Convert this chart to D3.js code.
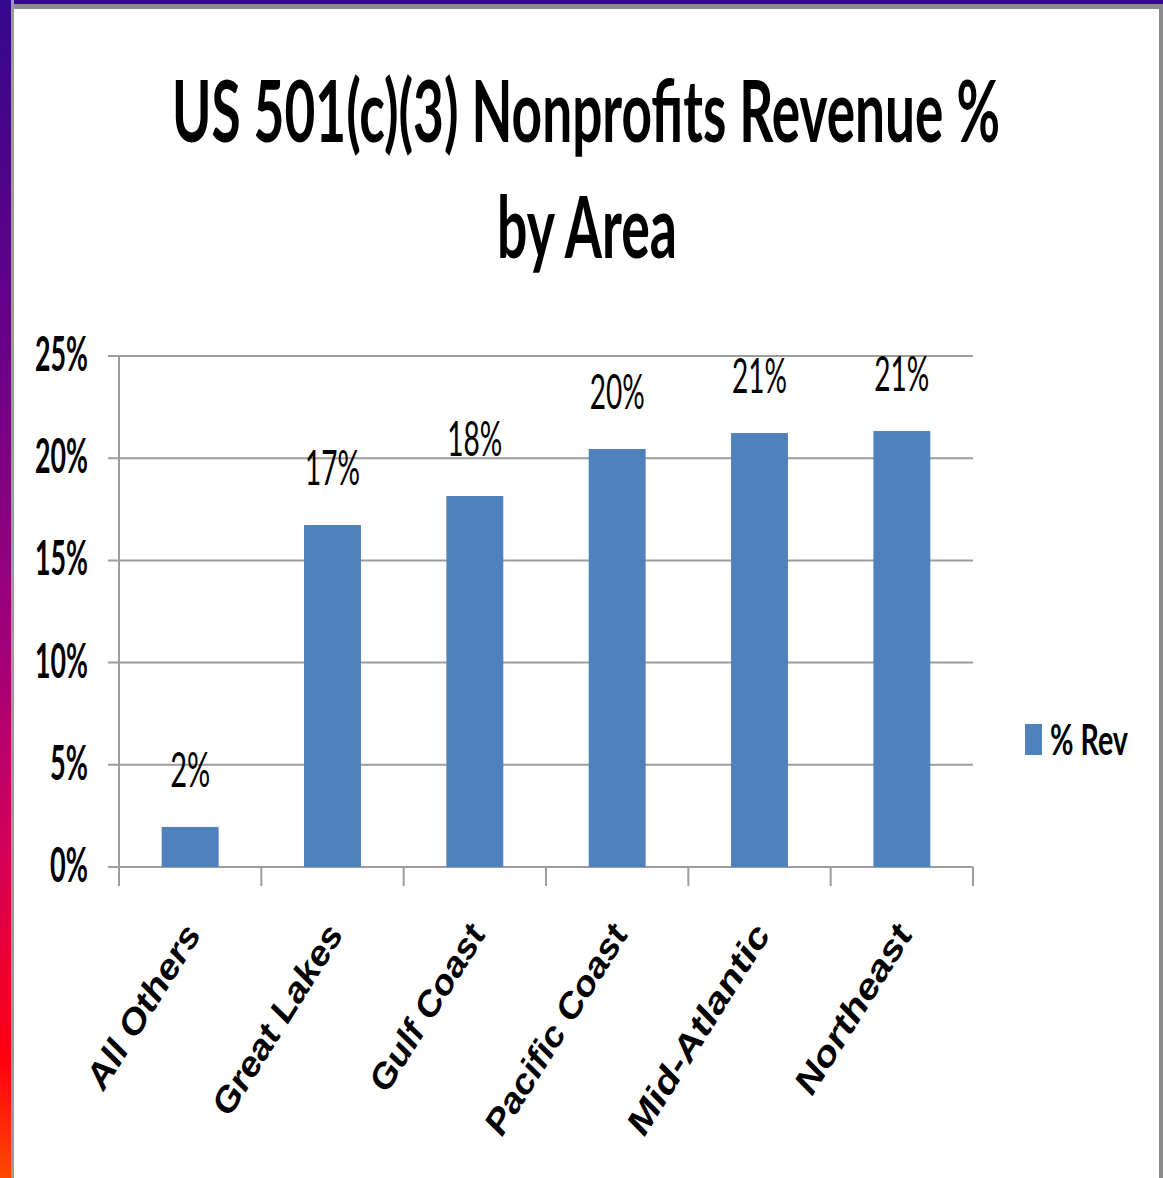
<!DOCTYPE html>
<html>
<head>
<meta charset="utf-8">
<script src="https://cdn.jsdelivr.net/npm/d3@7"></script>
<style>
  html, body { margin: 0; padding: 0; background: #fff; }
  svg { display: block; }
</style>
</head>
<body>
<div id="chart"></div>
<script>
// data
const areas = ['All Others', 'Great Lakes', 'Gulf Coast', 'Pacific Coast', 'Mid-Atlantic', 'Northeast'];
const revShare = [0.0196, 0.1673, 0.1815, 0.2045, 0.2123, 0.2133];
const valueLabels = ['2%', '17%', '18%', '20%', '21%', '21%'];
const yTicks = [0, 0.05, 0.10, 0.15, 0.20, 0.25];
const yTickLabels = ['0%', '5%', '10%', '15%', '20%', '25%'];
const titleLines = ['US 501(c)(3) Nonprofits Revenue %', 'by Area'];
// rough widths of the squeezed labels as they appear
const areaLabelLen = [194, 225, 197, 248, 248, 200];

const W = 1163, H = 1178;
const svg = d3.select('#chart').append('svg')
  .attr('width', W).attr('height', H);

// slide frame: gradient strip on the left, bars top and right
const defs = svg.append('defs');
const grad = defs.append('linearGradient')
  .attr('id', 'side').attr('x1', 0).attr('x2', 0).attr('y1', 0).attr('y2', 1);
[[0, '#34088e'], [0.3, '#6a0088'], [0.55, '#a20078'], [0.72, '#d0005a'], [0.9, '#ff0010'], [1, '#ff4a00']]
  .forEach(s => grad.append('stop').attr('offset', s[0]).attr('stop-color', s[1]));

svg.append('rect').attr('x', 0).attr('y', 0).attr('width', W).attr('height', 9).attr('fill', '#8c8c8c');
svg.append('rect').attr('x', 0).attr('y', 0).attr('width', W).attr('height', 4).attr('fill', '#38088c');
svg.append('rect').attr('x', 0).attr('y', 0).attr('width', 14).attr('height', H).attr('fill', '#9a9a9a');
svg.append('rect').attr('x', 0).attr('y', 0).attr('width', 11).attr('height', H).attr('fill', 'url(#side)');
svg.append('rect').attr('x', 1159).attr('y', 4).attr('width', 4).attr('height', H).attr('fill', '#8c8c8c');

// title (stretched a bit vertically, squeezed to the width seen)
const titlePos = [[586, 142, 828], [587, 258, 180]];
svg.append('g')
  .selectAll('g')
  .data(titleLines)
  .join('g')
  .attr('transform', (d, i) => `translate(${titlePos[i][0]},${titlePos[i][1]}) scale(1,1.12)`)
  .append('text')
  .attr('text-anchor', 'middle')
  .attr('textLength', (d, i) => titlePos[i][2])
  .attr('lengthAdjust', 'spacingAndGlyphs')
  .text(d => d)
  .style('font-family', 'Lato, "Open Sans", sans-serif')
  .style('font-weight', 'bold')
  .style('font-size', '77px')
  .style('fill', '#000');

// scales
const x0 = 119, x1 = 973;
const x = d3.scaleBand().domain(areas).range([x0, x1]).paddingInner(0.6).paddingOuter(0.3);
const y = d3.scaleLinear().domain([0, 0.25]).range([867, 356]);

// gridlines + y tick labels
svg.append('g')
  .selectAll('line')
  .data(yTicks)
  .join('line')
  .attr('x1', 108).attr('x2', x1)
  .attr('y1', d => y(d)).attr('y2', d => y(d))
  .attr('stroke', '#9c9c9c').attr('stroke-width', 2);

svg.append('g')
  .selectAll('text')
  .data(yTicks)
  .join('text')
  .attr('x', 88)
  .attr('y', d => y(d) + 15)
  .attr('text-anchor', 'end')
  .attr('textLength', (d, i) => yTickLabels[i].length === 2 ? 38 : 53)
  .attr('lengthAdjust', 'spacingAndGlyphs')
  .text((d, i) => yTickLabels[i])
  .style('font-family', 'Lato, "Open Sans", sans-serif')
  .style('font-weight', 'bold')
  .style('font-size', '48px')
  .style('fill', '#000');

// y axis line
svg.append('line')
  .attr('x1', x0).attr('x2', x0).attr('y1', y(0.25)).attr('y2', 886)
  .attr('stroke', '#9c9c9c').attr('stroke-width', 2);

// category tick marks on band edges
const edges = d3.range(areas.length + 1).map(i => x0 + i * x.step());
svg.append('g')
  .selectAll('line')
  .data(edges)
  .join('line')
  .attr('x1', d => d).attr('x2', d => d)
  .attr('y1', y(0)).attr('y2', 886)
  .attr('stroke', '#9c9c9c').attr('stroke-width', 2);

// bars
svg.append('g')
  .selectAll('rect')
  .data(areas)
  .join('rect')
  .attr('x', d => x(d))
  .attr('y', (d, i) => y(revShare[i]))
  .attr('width', x.bandwidth())
  .attr('height', (d, i) => y(0) - y(revShare[i]))
  .attr('fill', '#4f81bd');

// value labels
svg.append('g')
  .selectAll('text')
  .data(areas)
  .join('text')
  .attr('x', d => x(d) + x.bandwidth() / 2)
  .attr('y', (d, i) => y(revShare[i]) - 40)
  .attr('text-anchor', 'middle')
  .attr('textLength', (d, i) => valueLabels[i].length === 2 ? 40 : 55)
  .attr('lengthAdjust', 'spacingAndGlyphs')
  .text((d, i) => valueLabels[i])
  .style('font-family', 'Lato, "Open Sans", sans-serif')
  .style('font-size', '48px')
  .style('fill', '#000');

// category labels, rotated
svg.append('g')
  .selectAll('text')
  .data(areas)
  .join('text')
  .attr('transform', d => `translate(${x(d) + x.bandwidth() / 2 + 12},934) rotate(-58)`)
  .attr('text-anchor', 'end')
  .attr('textLength', (d, i) => areaLabelLen[i] - 8)
  .attr('lengthAdjust', 'spacingAndGlyphs')
  .text(d => d)
  .style('font-family', '"Liberation Sans", "DejaVu Sans", sans-serif')
  .style('font-weight', 'bold')
  .style('font-style', 'italic')
  .style('font-size', '34px')
  .style('fill', '#000');

// legend
const legend = svg.append('g');
legend.append('rect')
  .attr('x', 1025).attr('y', 724).attr('width', 17).attr('height', 31)
  .attr('fill', '#4f81bd');
legend.append('text')
  .attr('x', 1050).attr('y', 755)
  .attr('textLength', 78).attr('lengthAdjust', 'spacingAndGlyphs')
  .text('% Rev')
  .style('font-family', 'Lato, "Open Sans", sans-serif')
  .style('font-weight', 'bold')
  .style('font-size', '42px')
  .style('fill', '#000');
</script>
</body>
</html>
